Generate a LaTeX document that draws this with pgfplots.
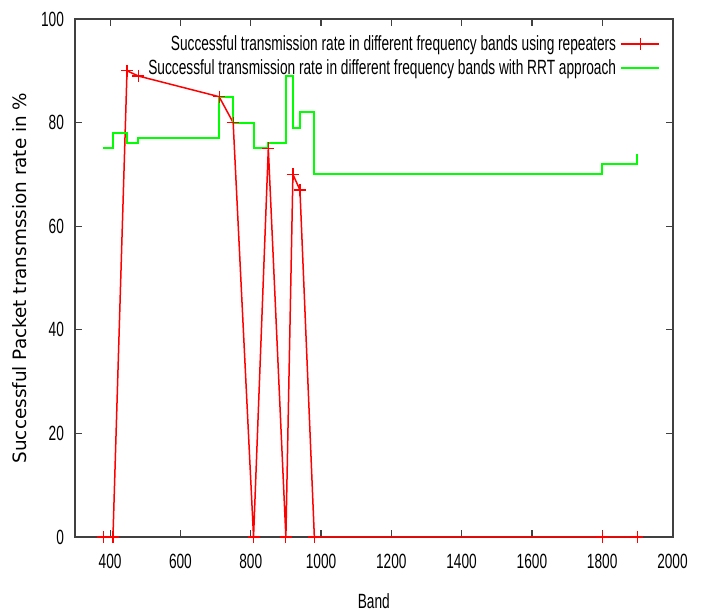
\documentclass[border=0pt]{standalone}
\usepackage{fontspec}
\setmainfont{Liberation Sans}[FakeStretch=0.665]
\newfontfamily\dejavu{DejaVu Sans}
\usepackage{pgfplots}
\pgfplotsset{compat=1.18}
\begin{document}
\begin{tikzpicture}
\begin{axis}[
    scale only axis,
    width=298.75pt,
    height=259pt,
    xmin=300, xmax=2000,
    ymin=0, ymax=100,
    xtick={400,600,...,2000},
    ytick={0,20,...,100},
    tick pos=both,
    tick align=inside,
    major tick length=3.5pt,
    axis line style={line width=1pt,black!75},
    every tick/.style={black!75,line width=0.6pt},
    /pgf/number format/assume math mode=true,
    /pgf/number format/1000 sep={},
    tick label style={font=\fontsize{10.3}{12}\selectfont},
    xticklabel style={yshift=-5pt},
    yticklabel style={xshift=-2pt},
    xlabel={Band},
    ylabel={Successful Packet transmssion rate in \%},
    xlabel style={font=\fontsize{10.3}{12}\selectfont,at={(axis description cs:0.5,-0.1236)},anchor=center},
    ylabel style={font=\dejavu\fontsize{9.2}{11}\selectfont,at={(axis description cs:-0.092,0.5)},anchor=center},
    legend style={draw=none,fill=none,at={(axis description cs:0.99,0.985)},anchor=north east,
        font=\fontsize{10.3}{12}\selectfont,legend cell align=right,row sep=-1pt},
    legend plot pos=right,
    legend image code/.code={\draw[mark repeat=2,mark phase=2,#1] plot coordinates {(0pt,0pt) (9.5pt,0pt) (19pt,0pt)};},
    clip=false,
]
\addplot[red,line width=0.75pt,mark=+,mark size=3pt,mark options={line width=0.6pt}]
    coordinates {
        (380,0) (408,0) (448,90) (480,89) (710,85) (750,80) (808,0)
        (850,75) (900,0) (920,70) (940,67) (981,0) (1800,0) (1900,0)
    };
\addlegendentry{Successful transmission rate in different frequency bands using repeaters}
\addplot[green,line width=1pt,const plot mark left]
    coordinates {
        (380,75) (408,78) (448,76) (480,77) (710,85) (750,80) (808,75)
        (850,76) (900,89) (920,79) (940,82) (981,70) (1800,72) (1900,74)
    };
\addlegendentry{Successful transmission rate in different frequency bands with RRT approach}
\coordinate (sw) at (rel axis cs:0,0);
\coordinate (ne) at (rel axis cs:1,1);
\end{axis}
\pgfresetboundingbox
\path ([xshift=-37.5pt,yshift=-36.5pt]sw) rectangle ([xshift=17.25pt,yshift=9.5pt]ne);
\end{tikzpicture}
\end{document}
